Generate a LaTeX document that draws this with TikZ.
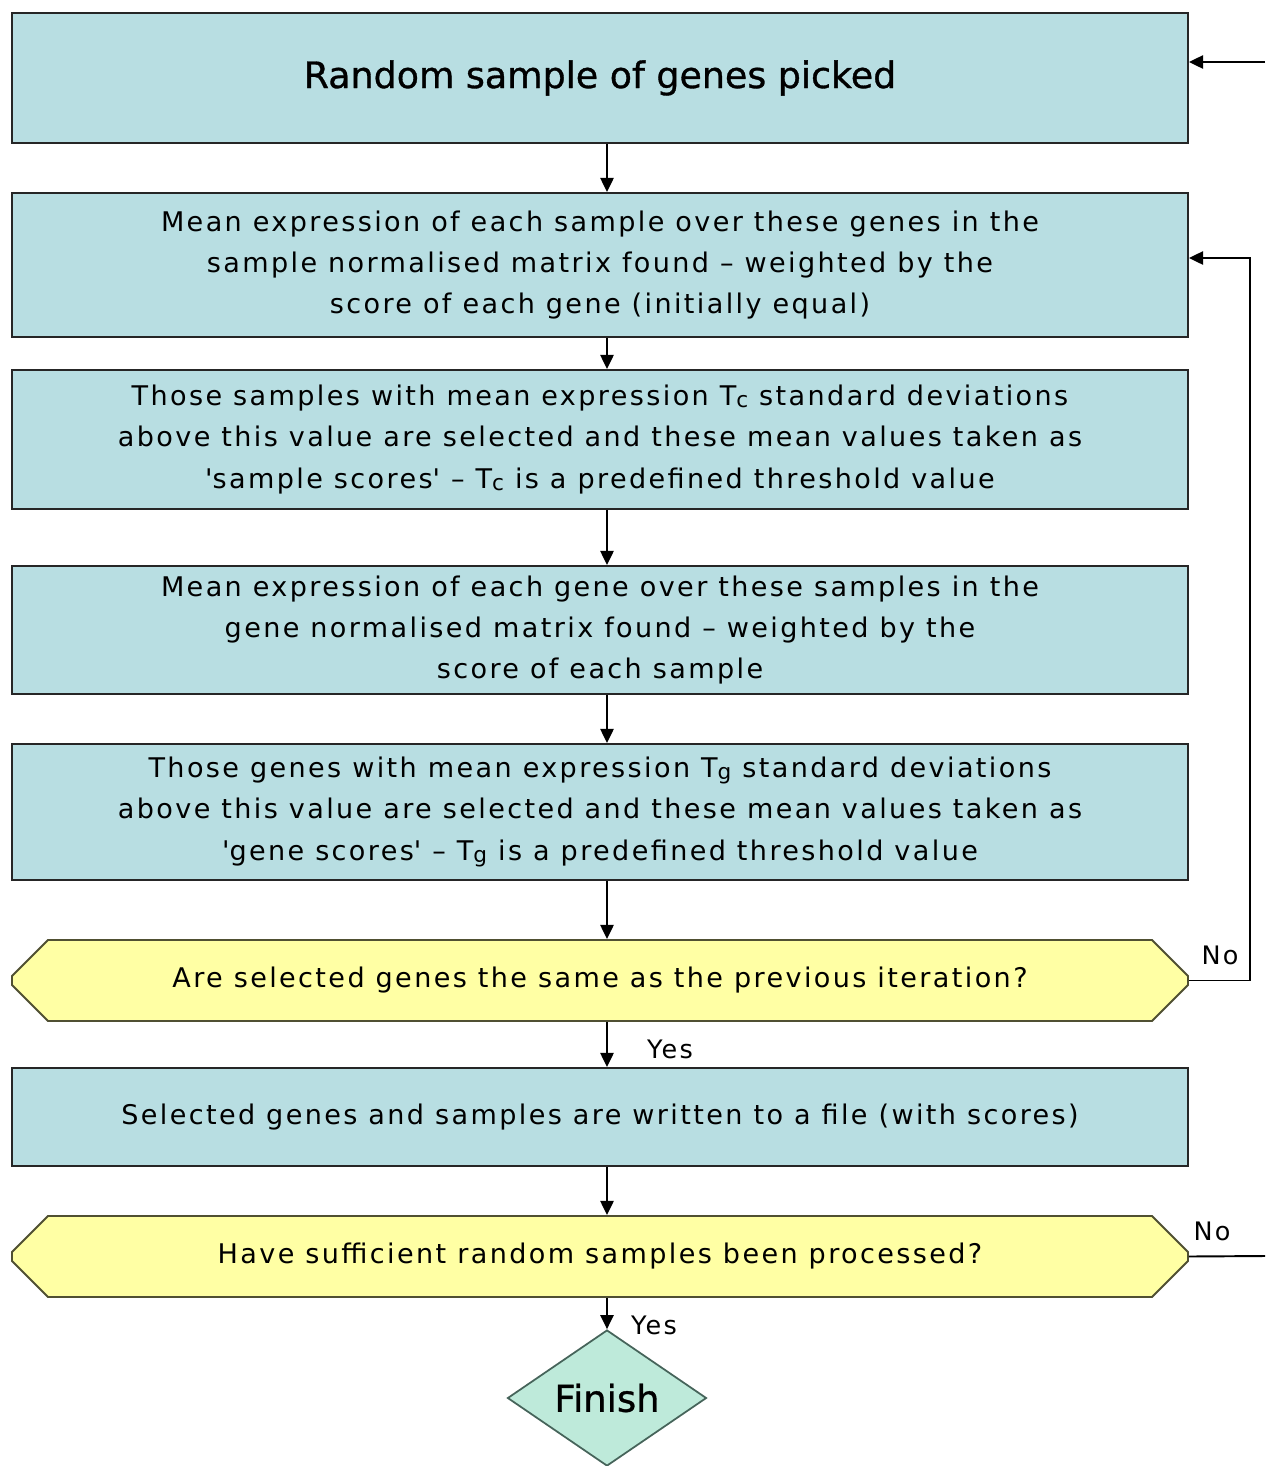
\documentclass[tikz,border=0pt]{standalone}
\usepackage{fontspec}
\setmainfont{DejaVu Sans}[LetterSpace=8.8]
\newfontfamily\titlefont{DejaVu Sans}[FakeBold=0.9]
\usetikzlibrary{shapes.geometric,shapes.misc,arrows.meta,calc}
\definecolor{boxblue}{RGB}{184,222,226}
\definecolor{hexyellow}{RGB}{255,255,164}
\definecolor{hexborder}{RGB}{80,80,50}
\definecolor{mint}{RGB}{190,234,218}
\definecolor{mintborder}{RGB}{70,100,90}
\newcommand{\subT}[1]{T\raisebox{-0.15ex}{\scalebox{0.8}{#1}}}
\newcommand{\sq}{\textquotesingle}
\begin{document}
\begin{tikzpicture}[
  every node/.style={inner sep=0pt},
  procbox/.style={rectangle, draw=black!85, line width=1.1pt, fill=boxblue,
    minimum width=23.52cm, align=center, font=\fontsize{15.4}{23.5}\selectfont},
  hexbox/.style={chamfered rectangle, chamfered rectangle xsep=0.7cm, chamfered rectangle ysep=0.46cm,
    draw=hexborder, line width=1.1pt, fill=hexyellow,
    minimum width=23.52cm, minimum height=1.62cm, align=center, font=\fontsize{15.4}{23.5}\selectfont},
  endbox/.style={diamond, aspect=1.46, draw=mintborder, line width=1pt, fill=mint,
    minimum width=3.98cm, minimum height=2.72cm, font=\titlefont\fontsize{21}{24}\selectfont},
  arr/.style={line width=1.1pt, -{Triangle[length=8pt,width=7.5pt]}},
  conn/.style={line width=1.1pt},
  lbl/.style={font=\fontsize{14.5}{17}\selectfont}
]
\useasboundingbox (0,0) rectangle (25.3,-29.32);
\coordinate (ax) at (12.14,0);
\coordinate (loopx) at (25.0,0);

\node[procbox, minimum height=2.6cm, font=\titlefont\fontsize{20.7}{24}\selectfont] (b1) at (12.0,-1.56) {Random sample of genes picked};
\node[procbox, minimum height=2.88cm] (b2) at (12.0,-5.30) {Mean expression of each sample over these genes in the\\ sample normalised matrix found -- weighted by the\\ score of each gene (initially equal)};
\node[procbox, minimum height=2.78cm] (b3) at (12.0,-8.79) {Those samples with mean expression \subT{c} standard deviations\\ above this value are selected and these mean values taken as\\ \sq sample scores\sq{} -- \subT{c} is a predefined threshold value};
\node[procbox, minimum height=2.56cm] (b4) at (12.0,-12.6) {Mean expression of each gene over these samples in the\\ gene normalised matrix found -- weighted by the\\ score of each sample};
\node[procbox, minimum height=2.72cm] (b5) at (12.0,-16.24) {Those genes with mean expression \subT{g} standard deviations\\ above this value are selected and these mean values taken as\\ \sq gene scores\sq{} -- \subT{g} is a predefined threshold value};
\node[hexbox] (h1) at (12.0,-19.61) {Are selected genes the same as the previous iteration?};
\node[procbox, minimum height=1.96cm] (b6) at (12.0,-22.34) {Selected genes and samples are written to a file (with scores)};
\node[hexbox] (h2) at (12.0,-25.13) {Have sufficient random samples been processed?};
\node[endbox] (fin) at (12.14,-27.96) {Finish};

\coordinate (in1) at (25.3,-1.24);
\coordinate (out2) at (25.3,-25.12);

\draw[arr] (b1.south -| ax) -- (b2.north -| ax);
\draw[arr] (b2.south -| ax) -- (b3.north -| ax);
\draw[arr] (b3.south -| ax) -- (b4.north -| ax);
\draw[arr] (b4.south -| ax) -- (b5.north -| ax);
\draw[arr] (b5.south -| ax) -- (h1.north -| ax);
\draw[arr] (h1.south -| ax) -- (b6.north -| ax);
\node[lbl] (yes1) at (13.4,-20.98) {Yes};
\draw[arr] (b6.south -| ax) -- (h2.north -| ax);
\draw[arr] (h2.south -| ax) -- (fin.north);
\node[lbl] (yes2) at (13.08,-26.5) {Yes};

\draw[arr] (h1.east) -- (h1.east -| loopx) |- ([yshift=0.14cm]b2.east);
\node[lbl] (no1) at (24.4,-19.1) {No};
\draw[arr] (in1) -- (b1.east |- in1);
\draw[conn] (h2.east) -- (out2);
\node[lbl] (no2) at (24.24,-24.62) {No};
\end{tikzpicture}
\end{document}
